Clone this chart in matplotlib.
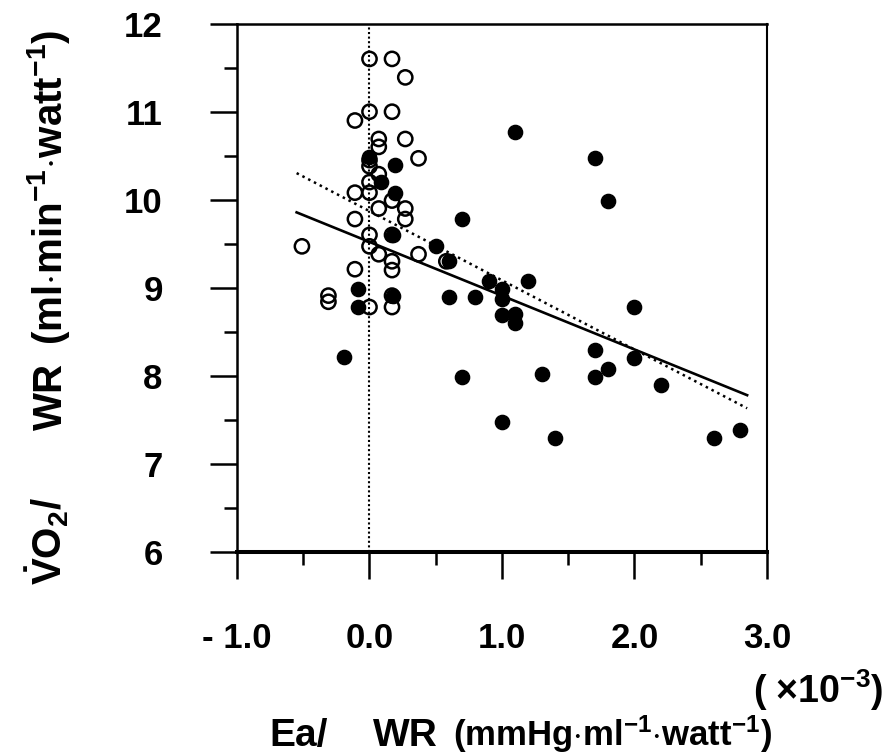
import numpy as np
import matplotlib
matplotlib.use("Agg")
from matplotlib import pyplot as plt
from matplotlib.ticker import MultipleLocator

plt.rcParams['font.family'] = ['Liberation Sans', 'DejaVu Sans']
plt.rcParams['font.weight'] = 'bold'
plt.rcParams['mathtext.fontset'] = 'custom'
plt.rcParams['mathtext.rm'] = 'Liberation Sans:bold'
plt.rcParams['mathtext.it'] = 'Liberation Sans:bold'
plt.rcParams['mathtext.bf'] = 'Liberation Sans:bold'
plt.rcParams['mathtext.default'] = 'rm'

# open circles
open_x = [0.0, 0.17, 0.27, 0.0, 0.17, -0.11, 0.07, 0.07, 0.27, 0.37,
          0.0, 0.0, 0.07, 0.0, -0.11, 0.0, 0.17, 0.27, 0.07, 0.27, -0.11,
          0.17, 0.0, 0.0, 0.07, 0.37, -0.51, 0.17, 0.17, -0.11, 0.58,
          -0.31, -0.31, 0.17, 0.0, 0.17]
open_y = [11.60, 11.60, 11.39, 11.00, 11.00, 10.90, 10.69, 10.60, 10.69, 10.47,
          10.45, 10.38, 10.29, 10.20, 10.08, 10.08, 9.99, 9.90, 9.90, 9.78, 9.78,
          9.60, 9.60, 9.47, 9.38, 9.38, 9.47, 9.30, 9.20, 9.21, 9.30,
          8.91, 8.84, 8.91, 8.78, 8.78]

# filled circles
fill_x = [0.0, 0.19, 0.09, 0.19, 0.18, 0.5, 0.6, 0.7, 1.1, 1.7, 1.8,
          0.9, 1.2, 1.0, 1.0, 0.6, 0.8, 1.0, 1.1, 1.1, 1.7, 1.8, 1.7,
          0.7, 1.3, 1.0, 1.4, 2.0, 2.0, 2.2, 2.6, 2.8,
          -0.09, 0.18, -0.09, -0.19]
fill_y = [10.48, 10.39, 10.20, 10.08, 9.60, 9.47, 9.30, 9.78, 10.77, 10.47, 9.99,
          9.08, 9.08, 8.99, 8.87, 8.90, 8.90, 8.69, 8.70, 8.60, 8.29, 8.08, 7.99,
          7.99, 8.02, 7.47, 7.29, 8.78, 8.20, 7.89, 7.29, 7.38,
          8.99, 8.91, 8.78, 8.21]

# regression lines (slope, intercept) and their x range
fit_solid = (-0.611, 9.52)
fit_dotted = (-0.786, 9.87)
fit_range = [-0.55, 2.85]

xtick_vals = [-1.0, 0.0, 1.0, 2.0, 3.0]
xtick_labels = ['- 1.0', '0.0', '1.0', '2.0', '3.0']
ytick_vals = [6, 7, 8, 9, 10, 11, 12]

fig = plt.figure(figsize=(8.95, 7.54), dpi=100)
ax = fig.add_axes([237 / 895, 1 - 551.7 / 754, 530 / 895, 528 / 754])

ax.axvline(0, color='black', lw=1.5, ls=(0, (1, 1.2)), zorder=1)

lx = np.array(fit_range)
ax.plot(lx, fit_solid[0] * lx + fit_solid[1], color='black', lw=1.9, zorder=2)
ax.plot(lx, fit_dotted[0] * lx + fit_dotted[1], color='black', lw=1.8,
        ls=(0, (1, 1.6)), zorder=2)

ax.scatter(open_x, open_y, s=105, facecolors='none', edgecolors='black',
           linewidths=1.8, zorder=3)
ax.scatter(fill_x, fill_y, s=105, color='black', zorder=4)

ax.set_xlim(-1.0, 3.0)
ax.set_ylim(6, 12)
ax.set_xticks(xtick_vals)
ax.set_xticklabels(xtick_labels)
ax.set_yticks(ytick_vals)
ax.xaxis.set_minor_locator(MultipleLocator(0.5))
ax.yaxis.set_minor_locator(MultipleLocator(0.5))

ax.spines['left'].set_linewidth(1.8)
ax.spines['bottom'].set_linewidth(2.9)
ax.spines['top'].set_linewidth(1.8)
ax.spines['right'].set_linewidth(1.5)

ax.tick_params(which='major', direction='out', length=19.5, width=1.8,
               labelsize=25)
ax.tick_params(which='minor', direction='out', length=9.5, width=1.8)
ax.tick_params(axis='y', which='major', pad=34)
ax.tick_params(axis='x', which='major', pad=31)
for lab in ax.get_xticklabels() + ax.get_yticklabels():
    lab.set_fontweight('bold')

W, H = 895, 754
# x axis title
fig.text(269 / W, 1 - 746 / H, 'Ea/', fontsize=28, fontweight='bold',
         ha='left', va='baseline')
fig.text(373 / W, 1 - 746 / H, 'WR', fontsize=28, fontweight='bold',
         ha='left', va='baseline')
fig.text(453 / W, 1 - 746 / H, r'(mmHg$\cdot$ml$^{-1}$$\cdot$watt$^{-1}$)',
         fontsize=25, fontweight='bold', ha='left', va='baseline')
fig.text(883 / W, 1 - 703 / H, r'( $\times$10$^{-3}$)', fontsize=27,
         fontweight='bold', ha='right', va='baseline')

# y axis title
fig.text(62 / W, 1 - 585 / H, r'$\dot{V}$O$_2$/', fontsize=29,
         fontweight='bold', rotation=90, rotation_mode='anchor',
         ha='left', va='baseline')
fig.text(62 / W, 1 - 430 / H, 'WR', fontsize=29,
         fontweight='bold', rotation=90, rotation_mode='anchor',
         ha='left', va='baseline')
fig.text(62 / W, 1 - 345 / H, r'(ml$\cdot$min$^{-1}$$\cdot$watt$^{-1}$)',
         fontsize=29, fontweight='bold', rotation=90, rotation_mode='anchor',
         ha='left', va='baseline')

fig.savefig('out.png', dpi=100)
